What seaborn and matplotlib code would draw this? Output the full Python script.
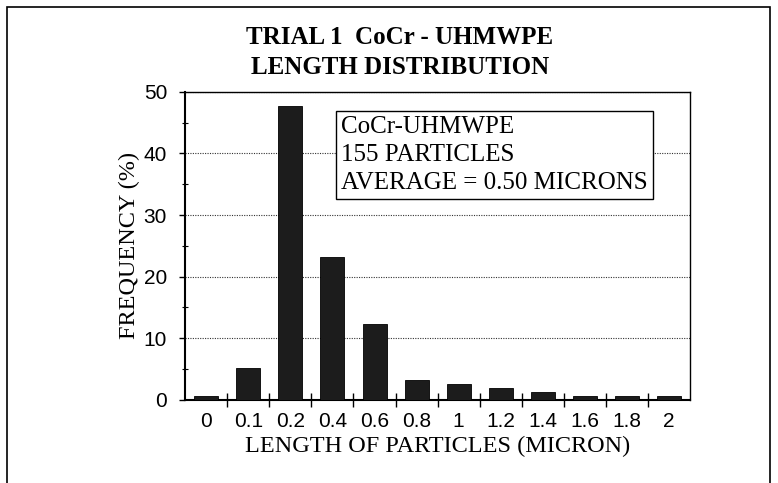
import matplotlib
matplotlib.use("Agg")
import matplotlib.pyplot as plt
import matplotlib.patches as mpatches
from matplotlib.ticker import MultipleLocator, FixedLocator
import seaborn as sns
import pandas as pd

# --- dados (155 partículas) ---
length_labels = ["0", "0.1", "0.2", "0.4", "0.6", "0.8", "1", "1.2", "1.4", "1.6", "1.8", "2"]
frequency_pct = [0.65, 5.16, 47.74, 23.23, 12.26, 3.23, 2.58, 1.94, 1.29, 0.65, 0.65, 0.65]

title_lines = ["TRIAL 1  CoCr - UHMWPE", "LENGTH DISTRIBUTION"]
box_lines = ["CoCr-UHMWPE", "155 PARTICLES", "AVERAGE = 0.50 MICRONS"]

SERIF = ["Liberation Serif", "DejaVu Serif"]
SANS = ["Liberation Sans", "DejaVu Sans"]

sns.set_theme(style="white")
plt.rcParams["font.family"] = SANS
plt.rcParams["text.color"] = "black"
plt.rcParams["axes.labelcolor"] = "black"
plt.rcParams["xtick.color"] = "black"
plt.rcParams["ytick.color"] = "black"

df = pd.DataFrame({"length": length_labels, "freq": frequency_pct})

fig = plt.figure(figsize=(7.78, 4.83), dpi=100)
ax = fig.add_axes([0.238, 0.172, 0.649, 0.638])

sns.barplot(data=df, x="length", y="freq", color="#1c1c1c", width=0.57,
            edgecolor="black", linewidth=0.6, saturation=1, ax=ax, zorder=3)

ax.set_xlim(-0.5, len(length_labels) - 0.5)
ax.set_ylim(0, 50)
ax.yaxis.set_major_locator(MultipleLocator(10))
ax.yaxis.set_minor_locator(MultipleLocator(5))
ax.xaxis.set_minor_locator(FixedLocator([i + 0.5 for i in range(len(length_labels) - 1)]))

ax.grid(axis="y", which="major", linestyle=(0, (1, 1.2)), color="#333333", linewidth=0.8, zorder=0)
ax.grid(axis="x", visible=False)

ax.tick_params(axis="y", which="major", direction="out", length=4, width=1, color="black",
               labelsize=15, pad=9, left=True, labelcolor="black")
ax.tick_params(axis="y", which="minor", direction="inout", length=4, width=0.8, color="black", left=True)
ax.tick_params(axis="x", which="major", length=0, labelsize=15, pad=9, labelcolor="black")
ax.tick_params(axis="x", which="minor", direction="inout", length=10, width=1, color="black", bottom=True)

for side in ["left", "bottom"]:
    ax.spines[side].set_linewidth(1.5)
    ax.spines[side].set_color("black")
for side in ["top", "right"]:
    ax.spines[side].set_linewidth(1.0)
    ax.spines[side].set_color("black")

ax.set_xlabel("LENGTH OF PARTICLES (MICRON)", fontfamily=SERIF, fontsize=17.5, labelpad=3, color="black")
ax.set_ylabel("FREQUENCY (%)", fontfamily=SERIF, fontsize=17.5, labelpad=3, color="black")

fig.text(0.514, 0.923, title_lines[0], ha="center", va="center", fontfamily=SERIF,
         fontweight="bold", fontsize=18, color="black")
fig.text(0.514, 0.861, title_lines[1], ha="center", va="center", fontfamily=SERIF,
         fontweight="bold", fontsize=18, color="black")

ax.text(0.309, 0.92, "\n".join(box_lines), transform=ax.transAxes, ha="left", va="top",
        fontfamily=SERIF, fontsize=18, linespacing=1.33, zorder=5, color="black",
        bbox=dict(boxstyle="square,pad=0.2", facecolor="white", edgecolor="black", linewidth=1))

# moldura externa
fig.patches.append(mpatches.Rectangle((0.009, -0.05), 0.981, 1.036, transform=fig.transFigure,
                                      fill=False, edgecolor="black", linewidth=1.2))

fig.savefig("out.png", dpi=100)
